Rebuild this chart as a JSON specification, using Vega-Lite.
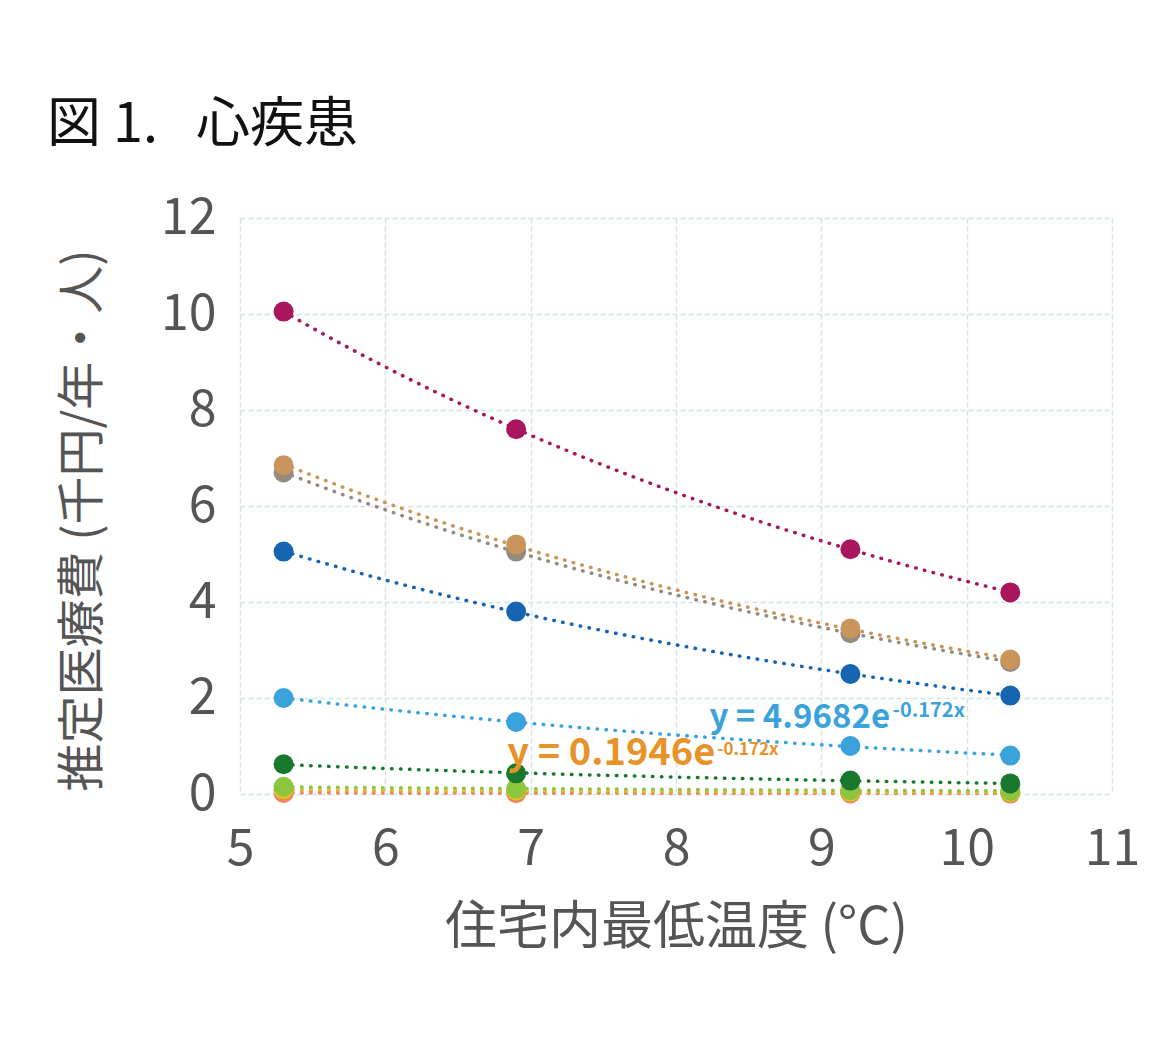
{
  "$schema": "https://vega.github.io/schema/vega-lite/v6.json",
  "autosize": {"type": "none"},
  "width": 872,
  "height": 576,
  "padding": {"left": 240, "top": 218, "right": 50, "bottom": 246},
  "background": "white",
  "title": {
    "text": "図 1.\u2002\u2009心疾患",
    "anchor": "start",
    "frame": "group",
    "dx": -193,
    "offset": 40,
    "font": "Noto Sans CJK JP",
    "fontSize": 54,
    "fontWeight": "normal",
    "color": "#111111"
  },
  "config": {
    "view": {"stroke": null},
    "axis": {
      "labelFont": "Noto Sans CJK JP",
      "titleFont": "Noto Sans CJK JP",
      "labelFontSize": 50,
      "titleFontSize": 51,
      "labelColor": "#555555",
      "titleColor": "#555555",
      "titleFontWeight": "normal",
      "labelFlush": false,
      "ticks": false,
      "domain": false,
      "gridColor": "#d3e2e2",
      "gridWidth": 1.5,
      "gridDash": [5, 3]
    }
  },
  "datasets": {
    "pts": [
      {"s": "A", "x": 5.3, "y": 0.02}, {"s": "A", "x": 6.9, "y": 0.015}, {"s": "A", "x": 9.2, "y": 0.01}, {"s": "A", "x": 10.3, "y": 0.008},
      {"s": "B", "x": 5.3, "y": 0.078}, {"s": "B", "x": 6.9, "y": 0.059}, {"s": "B", "x": 9.2, "y": 0.04}, {"s": "B", "x": 10.3, "y": 0.033},
      {"s": "C", "x": 5.3, "y": 0.1}, {"s": "C", "x": 6.9, "y": 0.075}, {"s": "C", "x": 9.2, "y": 0.05}, {"s": "C", "x": 10.3, "y": 0.042},
      {"s": "D", "x": 5.3, "y": 0.15}, {"s": "D", "x": 6.9, "y": 0.11}, {"s": "D", "x": 9.2, "y": 0.08}, {"s": "D", "x": 10.3, "y": 0.065},
      {"s": "E", "x": 5.3, "y": 0.62}, {"s": "E", "x": 6.9, "y": 0.43}, {"s": "E", "x": 9.2, "y": 0.28}, {"s": "E", "x": 10.3, "y": 0.22},
      {"s": "F", "x": 5.3, "y": 2.0}, {"s": "F", "x": 6.9, "y": 1.5}, {"s": "F", "x": 9.2, "y": 1.0}, {"s": "F", "x": 10.3, "y": 0.8},
      {"s": "G", "x": 5.3, "y": 5.05}, {"s": "G", "x": 6.9, "y": 3.8}, {"s": "G", "x": 9.2, "y": 2.5}, {"s": "G", "x": 10.3, "y": 2.05},
      {"s": "H", "x": 5.3, "y": 6.7}, {"s": "H", "x": 6.9, "y": 5.05}, {"s": "H", "x": 9.2, "y": 3.35}, {"s": "H", "x": 10.3, "y": 2.75},
      {"s": "I", "x": 5.3, "y": 6.85}, {"s": "I", "x": 6.9, "y": 5.2}, {"s": "I", "x": 9.2, "y": 3.45}, {"s": "I", "x": 10.3, "y": 2.8},
      {"s": "J", "x": 5.3, "y": 10.05}, {"s": "J", "x": 6.9, "y": 7.6}, {"s": "J", "x": 9.2, "y": 5.1}, {"s": "J", "x": 10.3, "y": 4.2}
    ]
  },
  "layer": [
    {
      "data": {"name": "pts"},
      "transform": [
        {"regression": "y", "on": "x", "groupby": ["s"], "method": "exp", "extent": [5.3, 10.3]}
      ],
      "mark": {"type": "line", "strokeWidth": 3.5, "strokeDash": [0.5, 8.5], "strokeCap": "round"},
      "encoding": {
        "x": {"field": "x", "type": "quantitative", "scale": {"domain": [5, 11]}, "axis": {"values": [5, 6, 7, 8, 9, 10, 11], "format": "d", "labelPadding": 30, "title": "住宅内最低温度 (°C)", "titlePadding": 28, "titleFontSize": 52}},
        "y": {"field": "y", "type": "quantitative", "scale": {"domain": [0, 12]}, "axis": {"values": [0, 2, 4, 6, 8, 10, 12], "labelPadding": 24, "title": "推定医療費 (千円/年・人)", "titlePadding": 53, "titleY": 302, "titleFontSize": 48}},
        "color": {"field": "s", "type": "nominal", "legend": null,
          "scale": {"domain": ["A", "B", "C", "D", "E", "F", "G", "H", "I", "J"],
                    "range": ["#f08468", "#e8932a", "#e5c22a", "#8cc63e", "#17782e", "#3ba3dc", "#1565b0", "#948b80", "#c9955a", "#a8175e"]}},
        "detail": {"field": "s"}
      }
    },
    {
      "data": {"name": "pts"},
      "mark": {"type": "circle", "size": 400, "opacity": 1},
      "encoding": {
        "x": {"field": "x", "type": "quantitative"},
        "y": {"field": "y", "type": "quantitative"},
        "color": {"field": "s", "type": "nominal", "legend": null}
      }
    },
    {
      "data": {"values": [{"t": "y = 4.9682e"}]},
      "mark": {"type": "text", "align": "right", "baseline": "alphabetic", "font": "Noto Sans CJK JP", "fontSize": 33, "fontWeight": "bold", "color": "#3ba3dc"},
      "encoding": {"x": {"datum": 9.473}, "y": {"datum": 1.375}, "text": {"field": "t"}}
    },
    {
      "data": {"values": [{"t": "-0.172x"}]},
      "mark": {"type": "text", "align": "left", "baseline": "alphabetic", "font": "Noto Sans CJK JP", "fontSize": 20, "fontWeight": "bold", "color": "#3ba3dc"},
      "encoding": {"x": {"datum": 9.49}, "y": {"datum": 1.6}, "text": {"field": "t"}}
    },
    {
      "data": {"values": [{"t": "y = 0.1946e"}]},
      "mark": {"type": "text", "align": "right", "baseline": "alphabetic", "font": "Noto Sans CJK JP", "fontSize": 38, "fontWeight": "bold", "color": "#e8932a"},
      "encoding": {"x": {"datum": 8.27}, "y": {"datum": 0.6}, "text": {"field": "t"}}
    },
    {
      "data": {"values": [{"t": "-0.172x"}]},
      "mark": {"type": "text", "align": "left", "baseline": "alphabetic", "font": "Noto Sans CJK JP", "fontSize": 17, "fontWeight": "bold", "color": "#e8932a"},
      "encoding": {"x": {"datum": 8.283}, "y": {"datum": 0.82}, "text": {"field": "t"}}
    }
  ]
}
